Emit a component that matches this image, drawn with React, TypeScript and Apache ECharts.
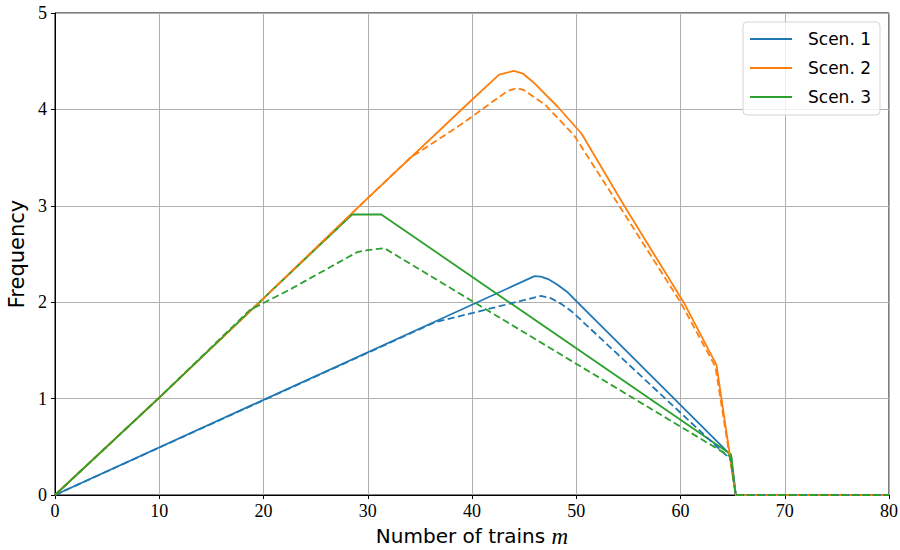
import React, { useEffect, useRef } from "react";
import * as echarts from "echarts";

// Data: [m, frequency]
const scen1Solid: number[][] = [
  [0, 0], [46, 2.27], [46.6, 2.265], [47.3, 2.24], [48.2, 2.18], [49.2, 2.1], [50.2, 1.99],
  [64.85, 0.41], [65.3, 0], [80, 0],
];
const scen2Solid: number[][] = [
  [0, 0], [10, 1.01], [20, 2.04], [30, 3.08], [40, 4.1], [42.6, 4.36], [44, 4.4], [44.9, 4.37],
  [45.8, 4.29], [48.2, 4.03], [50.5, 3.75], [54.6, 3.0], [60.3, 2.0], [63.45, 1.35], [65.3, 0], [80, 0],
];
const scen3Solid: number[][] = [
  [0, 0], [10, 1.01], [20, 2.04], [28.5, 2.91], [31.3, 2.91], [64.85, 0.42], [65.3, 0], [80, 0],
];
const scen1Dashed: number[][] = [
  [0, 0], [36.4, 1.79], [46.6, 2.065], [47.6, 2.04], [48.6, 1.98], [49.6, 1.9], [50.5, 1.81],
  [64.8, 0.37], [65.3, 0], [80, 0],
];
const scen2Dashed: number[][] = [
  [0, 0], [10, 1.01], [20, 2.04], [30, 3.08], [34.1, 3.5], [38.9, 3.84], [43.4, 4.19], [44.3, 4.22],
  [45, 4.2], [47, 4.05], [49.8, 3.73], [54.3, 2.97], [60, 2.0], [63.35, 1.33], [65.3, 0], [80, 0],
];
const scen3Dashed: number[][] = [
  [0, 0], [10, 1.01], [18.7, 1.92], [22.5, 2.13], [29, 2.52], [30, 2.54], [31.6, 2.56],
  [64.75, 0.4], [65.3, 0], [80, 0],
];
const legendNames = ["Scen. 1", "Scen. 2", "Scen. 3"];
const colors = ["#1f77b4", "#ff7f0e", "#2ca02c"];

export default function App() {
  const ref = useRef<HTMLDivElement>(null);
  useEffect(() => {
    if (!ref.current) return;
    const chart = echarts.init(ref.current, null, { renderer: "svg" });
    const tickFont = "'Liberation Serif', 'DejaVu Serif', serif";
    const sansFont = "'DejaVu Sans', sans-serif";
    const mk = (name: string, data: number[][], color: string, dashed: boolean) => ({
      name,
      type: "line",
      data,
      symbol: "none",
      clip: false,
      lineStyle: { color, width: 1.8, type: dashed ? [7, 3.5] : "solid" },
      itemStyle: { color },
    });
    chart.setOption({
      animation: false,
      backgroundColor: "#fff",
      grid: {
        left: 55, right: 11, top: 13, bottom: 55,
        outerBoundsMode: "none",
        containLabel: false,
        show: true, borderColor: "#000", borderWidth: 1,
      },
      legend: {
        data: legendNames.map((n) => ({ name: n, icon: "rect" })),
        orient: "vertical",
        right: 20,
        top: 22,
        itemWidth: 42,
        itemHeight: 2,
        itemGap: 9,
        padding: [7, 9, 8, 7],
        borderRadius: 4,
        borderColor: "#d5d5d5",
        borderWidth: 1,
        backgroundColor: "rgba(255,255,255,0.8)",
        textStyle: { fontFamily: sansFont, fontSize: 17, lineHeight: 20, color: "#000", padding: [0, 0, 0, 11] },
      },
      xAxis: {
        type: "value",
        min: 0, max: 80, interval: 10,
        name: "{a|Number of trains }{b|m}",
        nameLocation: "middle",
        nameGap: 30,
        nameTextStyle: {
          lineHeight: 22,
          rich: {
            a: { fontFamily: sansFont, fontSize: 20, lineHeight: 22, color: "#000" },
            b: { fontFamily: tickFont, fontSize: 23, lineHeight: 22, fontStyle: "italic", color: "#000" },
          },
        },
        axisLine: { show: true, lineStyle: { color: "#000", width: 1 } },
        axisTick: { show: true, length: 4, lineStyle: { color: "#000" } },
        axisLabel: { fontFamily: tickFont, fontSize: 18, color: "#000", margin: 7 },
        splitLine: { show: true, lineStyle: { color: "#b0b0b0", width: 1 } },
      },
      yAxis: {
        type: "value",
        min: 0, max: 5, interval: 1,
        name: "Frequency",
        nameLocation: "middle",
        nameGap: 28,
        nameTextStyle: { fontFamily: sansFont, fontSize: 21, color: "#000" },
        axisLine: { show: true, lineStyle: { color: "#000", width: 1 } },
        axisTick: { show: true, length: 4, lineStyle: { color: "#000" } },
        axisLabel: { fontFamily: tickFont, fontSize: 18, color: "#000", margin: 8 },
        splitLine: { show: true, lineStyle: { color: "#b0b0b0", width: 1 } },
      },
      series: [
        mk(legendNames[0], scen1Solid, colors[0], false),
        mk(legendNames[1], scen2Solid, colors[1], false),
        mk(legendNames[2], scen3Solid, colors[2], false),
        mk("Scen. 1 (dashed)", scen1Dashed, colors[0], true),
        mk("Scen. 2 (dashed)", scen2Dashed, colors[1], true),
        mk("Scen. 3 (dashed)", scen3Dashed, colors[2], true),
      ],
    });
    return () => chart.dispose();
  }, []);
  return <div ref={ref} style={{ width: 900, height: 550, position: "absolute", left: 0, top: 0 }} />;
}
